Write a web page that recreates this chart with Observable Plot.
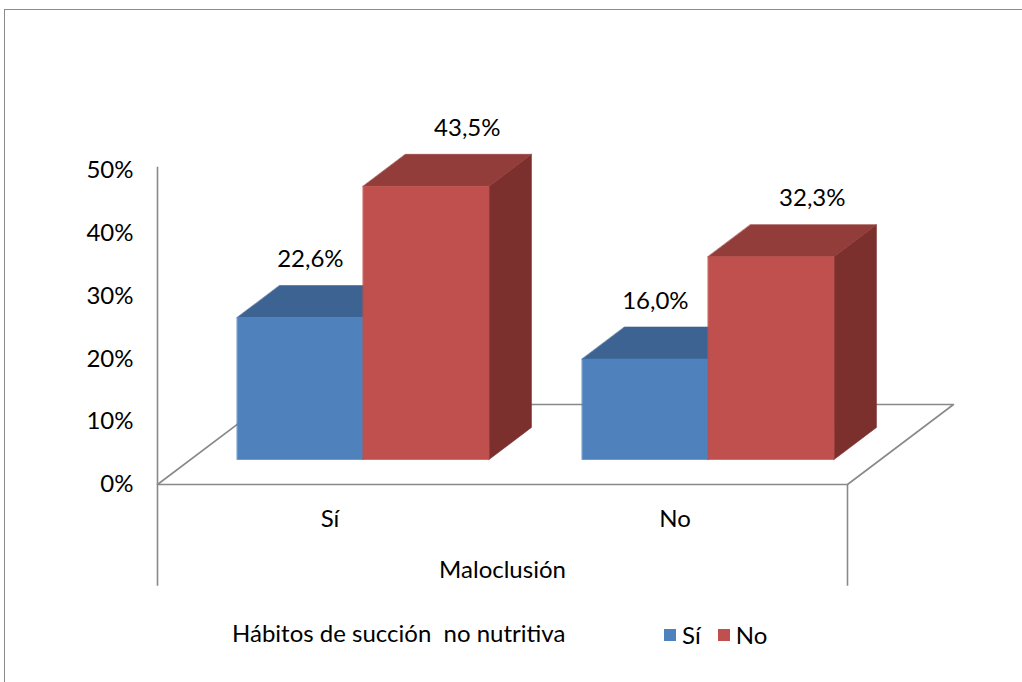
<!DOCTYPE html>
<html>
<head>
<meta charset="utf-8">
<script src="https://cdn.jsdelivr.net/npm/d3@7"></script>
<script src="https://cdn.jsdelivr.net/npm/@observablehq/plot@0.6"></script>
<style>
  html, body { margin: 0; padding: 0; background: #fff; }
  #wrap { position: relative; width: 1022px; height: 682px; overflow: hidden; font-family: Lato, "Open Sans", sans-serif; }
  #frame { position: absolute; left: 4px; top: 9px; right: -10px; bottom: -10px; border-top: 1px solid #8a8a8a; border-left: 1px solid #8a8a8a; }
  #chart { position: absolute; left: 0; top: 0; }
  #title { position: absolute; left: 232px; top: 618px; font-size: 24px; white-space: pre; color: #000; line-height: 30px; }
  #legend { position: absolute; left: 664px; top: 618px; }
  .leg-swatch { margin-right: 17px !important; }
  .leg-swatch > svg { margin-right: 6px !important; }
</style>
</head>
<body>
<div id="wrap">
  <div id="frame"></div>
  <div id="chart"></div>
  <div id="title"></div>
  <div id="legend"></div>
</div>
<script>
// ---- data ----
const categories = ["Sí", "No"];                 // Maloclusión
const series = ["Sí", "No"];                     // Hábitos de succión no nutritiva
const seriesSi = [22.6, 16.0];
const seriesNo = [43.5, 32.3];
const yTicks = [0, 10, 20, 30, 40, 50];
const colors = ["#4F81BD", "#C0504D"];
const topColors = ["#3D6392", "#933D3B"];
const sideColors = ["#385D8A", "#7B302E"];
const xTitle = "Maloclusión";
const legendTitle = "Hábitos de succión  no nutritiva";

// ---- 3D projection constants (in scale units) ----
const DX = 0.1536;   // floor depth along x (fraction of floor width)
const DY = 12.74;    // floor depth along y (percentage units)
const d0 = 0.3125, d1 = 0.7125; // bar depth range
const groupW = 0.365, barW = groupW / 2;
const catPos = categories.map((c, i) => (i + 0.5) / categories.length);
const values = [seriesSi, seriesNo];

const P = (x, y, d) => ({x: x + d * DX, y: y + d * DY});

const faces = [];
const labels = [];
categories.forEach((c, ci) => {
  series.forEach((s, si) => {
    const v = values[si][ci];
    const x0 = catPos[ci] - groupW / 2 + si * barW;
    const x1 = x0 + barW;
    faces.push({fill: sideColors[si], pts: [P(x1, 0, d0), P(x1, 0, d1), P(x1, v, d1), P(x1, v, d0)]});
    faces.push({fill: topColors[si], pts: [P(x0, v, d0), P(x1, v, d0), P(x1, v, d1), P(x0, v, d1)]});
    faces.push({fill: colors[si], pts: [P(x0, 0, d0), P(x1, 0, d0), P(x1, v, d0), P(x0, v, d0)]});
    const c2 = P((x0 + x1) / 2, v, (d0 + d1) / 2);
    labels.push({series: si, x: c2.x, y: v + d1 * DY, text: v.toFixed(1).replace(".", ",") + "%"});
  });
});

const floor = [P(0, 0, 0), P(1, 0, 0), P(1, 0, 1), P(0, 0, 1)];
const catByPos = new Map(catPos.map((p, i) => [p, categories[i]]));
const gray = "#898989";

const chart = Plot.plot({
  width: 1022,
  height: 600,
  marginTop: 170,
  marginBottom: 116,
  marginLeft: 157,
  marginRight: 175,
  x: {domain: [0, 1]},
  y: {domain: [0, 50]},
  style: {fontFamily: "Lato, 'Open Sans', sans-serif", fontSize: "24px", color: "#000", overflow: "visible", background: "transparent"},
  marks: [
    Plot.line(floor, {x: "x", y: "y", stroke: gray, strokeWidth: 1.6, curve: "linear-closed"}),
    Plot.ruleX([0], {y1: -16.2, y2: 50.5, stroke: gray, strokeWidth: 1.6}),
    Plot.ruleX([1], {y1: -16.2, y2: 0, stroke: gray, strokeWidth: 1.6}),
    ...faces.map(f => Plot.line(f.pts, {x: "x", y: "y", fill: f.fill, stroke: f.fill, strokeWidth: 0.6, curve: "linear-closed"})),
    Plot.text(labels.filter(d => d.series === 0), {x: "x", y: "y", text: "text", dx: -11, dy: -26, lineAnchor: "middle", fill: "#000"}),
    Plot.text(labels.filter(d => d.series === 1), {x: "x", y: "y", text: "text", dx: 20, dy: -26, lineAnchor: "middle", fill: "#000"}),
    Plot.axisY({ticks: yTicks, tickFormat: d => d + "%", tickSize: 0, tickPadding: 24, label: null}),
    Plot.axisX({ticks: catPos, tickFormat: d => catByPos.get(d), tickSize: 0, tickPadding: 25, label: null}),
    Plot.text([xTitle], {text: d => d, frameAnchor: "bottom", dy: 86, lineAnchor: "middle", fill: "#000"})
  ]
});
document.getElementById("chart").appendChild(chart);
document.getElementById("title").textContent = legendTitle;

const legend = Plot.legend({
  color: {type: "ordinal", domain: series, range: colors},
  swatchSize: 12,
  className: "leg",
  style: {fontFamily: "Lato, 'Open Sans', sans-serif", fontSize: "24px", color: "#000"}
});
document.getElementById("legend").appendChild(legend);
</script>
</body>
</html>
